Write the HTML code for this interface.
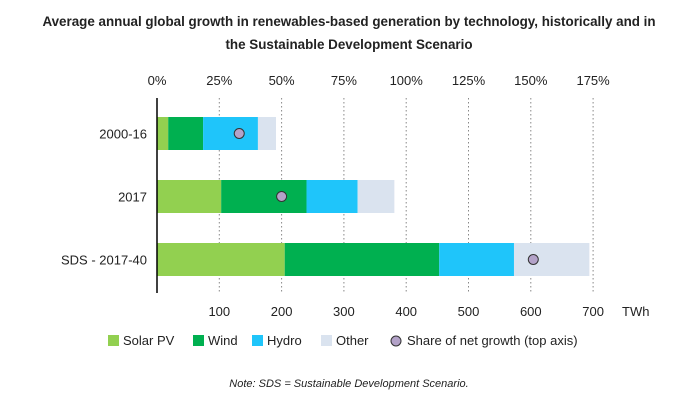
<!DOCTYPE html>
<html><head><meta charset="utf-8"><style>
body{margin:0;background:#fff;font-family:"Liberation Sans",sans-serif}
svg text{font-family:"Liberation Sans",sans-serif}
</style></head><body>
<svg width="699" height="404">
<text x="349" y="26" text-anchor="middle" font-size="13.4" font-weight="bold" fill="#222">Average annual global growth in renewables-based generation by technology, historically and in</text>
<text x="349" y="49" text-anchor="middle" font-size="13.4" font-weight="bold" fill="#222">the Sustainable Development Scenario</text>
<g id="grid"></g><g id="bars"></g><g id="axes"></g>
<g font-size="13" fill="#222">
<rect x="108" y="335" width="11" height="11" fill="#92d050"/><text x="123" y="345">Solar PV</text>
<rect x="193" y="335" width="11" height="11" fill="#00b050"/><text x="208" y="345">Wind</text>
<rect x="252" y="335" width="11" height="11" fill="#1fc5fa"/><text x="267" y="345">Hydro</text>
<rect x="321" y="335" width="11" height="11" fill="#dae3ef"/><text x="336" y="345">Other</text>
<circle cx="396" cy="341" r="5" fill="#b3a2c8" stroke="#333"/><text x="407" y="345">Share of net growth (top axis)</text>
</g>
<text x="349" y="387" text-anchor="middle" font-size="11" font-style="italic" fill="#222">Note: SDS = Sustainable Development Scenario.</text>
</svg>
<script>
const categories=["2000-16","2017","SDS - 2017-40"];
const solar=[18,103,205];
const wind=[56,137,248];
const hydro=[88,82,120];
const other=[29,59,121];
const share=[33,50,151];
const xTicks=[100,200,300,400,500,600,700];
const topTicks=[0,25,50,75,100,125,150,175];
const ns="http://www.w3.org/2000/svg";
const x0=157,pxPer=0.623;
const x=v=>x0+v*pxPer;
const xp=p=>x0+p*4*pxPer;
const rowY=[117,180,243],bh=33;
function mk(t,a,parent){const e=document.createElementNS(ns,t);for(const k in a)e.setAttribute(k,a[k]);document.getElementById(parent).appendChild(e);return e;}
xTicks.forEach(v=>{
 const l=mk('line',{x1:x(v),x2:x(v),y1:98,y2:293,stroke:'#888','stroke-dasharray':'1.5,2.5'},'grid');
 
 
 const t=mk('text',{x:x(v),y:316,'text-anchor':'middle','font-size':13,fill:'#222'},'axes');t.textContent=v;
 
 
});
const u=mk('text',{x:622,y:316,'font-size':13,fill:'#222'},'axes');u.textContent='TWh';


topTicks.forEach(p=>{
 const t=mk('text',{x:xp(p),y:85,'text-anchor':'middle','font-size':13,fill:'#222'},'axes');t.textContent=p+'%';
 
 
});
const ax=mk('line',{x1:x0,x2:x0,y1:98,y2:293,stroke:'#000','stroke-width':1.5},'axes');


const series=[[solar,'#92d050','solar'],[wind,'#00b050','wind'],[hydro,'#1fc5fa','hydro'],[other,'#dae3ef','other']];
categories.forEach((c,i)=>{
 let acc=0;
 series.forEach(([arr,col,nm])=>{
  const r=mk('rect',{x:x(acc),y:rowY[i],width:arr[i]*pxPer,height:bh,fill:col},'bars');
  
  
  acc+=arr[i];
 });
 const d=mk('circle',{cx:xp(share[i]),cy:rowY[i]+bh/2,r:5,fill:'#b3a2c8',stroke:'#333'},'bars');
 
 
 const t=mk('text',{x:147,y:rowY[i]+bh/2+5,'text-anchor':'end','font-size':13,fill:'#222'},'axes');t.textContent=c;
 
 
});
</script>
</body></html>
